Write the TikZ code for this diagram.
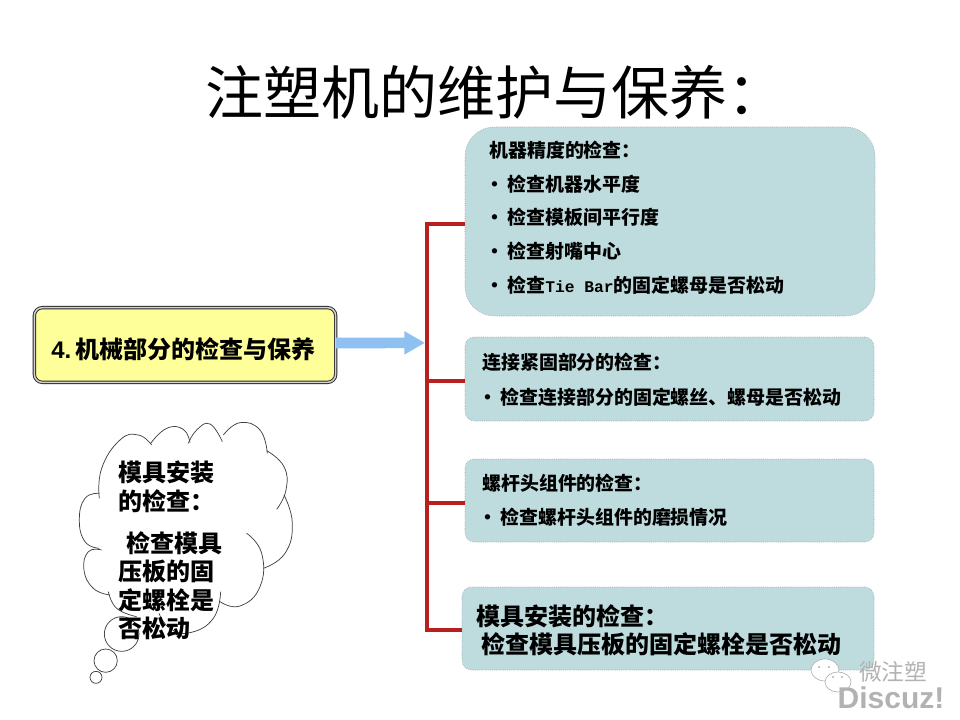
\documentclass[tikz,border=0pt]{standalone}
\usepackage{fontspec}
\setmainfont{Noto Sans CJK SC}
\newfontfamily\latinmono{Liberation Mono}
\newfontfamily\latinsans{Liberation Sans}
\usepackage{xcolor}
\usetikzlibrary{arrows.meta,positioning,calc}
\definecolor{boxblue}{RGB}{190,219,222}
\definecolor{boxyellow}{RGB}{255,255,153}
\definecolor{trunkred}{RGB}{184,32,32}
\definecolor{arrowblue}{RGB}{143,193,240}
\definecolor{markgray}{RGB}{178,178,178}
\begin{document}
\begin{tikzpicture}[x=0.75pt,y=-0.75pt,
  bluebox/.style={draw=gray!80,densely dotted,fill=boxblue,rounded corners=7pt},
  itemtxt/.style={anchor=west,inner sep=0pt,font=\fontsize{14.2}{16}\selectfont\bfseries},
  bigtxt/.style={anchor=west,inner sep=0pt,font=\fontsize{18}{21}\selectfont\bfseries},
  redline/.style={draw=trunkred,line width=3pt},
  cloudline/.style={draw=black!75,line width=0.55pt}]
\useasboundingbox (0,0) rectangle (960,720);
\node[anchor=west,inner sep=0pt,font=\fontsize{43.5}{48}\selectfont] (title) at (205,92) {注塑机的维护与保养：};
% right boxes
\node[bluebox,rounded corners=22pt,minimum width=307.5pt,minimum height=141.75pt] (box1) at (670,221.5) {};
\node[bluebox,minimum width=306.75pt,minimum height=63pt] (box2) at (669.5,379) {};
\node[bluebox,minimum width=306.75pt,minimum height=62.25pt] (box3) at (669.5,500.5) {};
\node[bluebox,minimum width=309pt,minimum height=62.25pt] (box4) at (668,628.5) {};
% box texts
\node[itemtxt] (t10) at (489,150) {机器精度的检查：};
\node[itemtxt] (t11) at (485,184) {•\hspace{2.5pt}检查机器水平度};
\node[itemtxt] (t12) at (485,217) {•\hspace{2.5pt}检查模板间平行度};
\node[itemtxt] (t13) at (485,251) {•\hspace{2.5pt}检查射嘴中心};
\node[itemtxt] (t14) at (485,285) {•\hspace{2.5pt}检查{\fontsize{12.2}{16}\selectfont\latinmono Tie Bar}的固定螺母是否松动};
\node[itemtxt] (t20) at (482,362) {连接紧固部分的检查：};
\node[itemtxt] (t21) at (478,397) {•\hspace{2.5pt}检查连接部分的固定螺丝、螺母是否松动};
\node[itemtxt] (t30) at (482,483) {螺杆头组件的检查：};
\node[itemtxt] (t31) at (478,517) {•\hspace{2.5pt}检查螺杆头组件的磨损情况};
\node[bigtxt] (t40) at (476,616) {模具安装的检查：};
\node[bigtxt] (t41) at (481,644) {检查模具压板的固定螺栓是否松动};
% yellow box and arrow
\node[draw=black!85,line width=0.7pt,double=white!65!gray,double distance=1.1pt,fill=boxyellow,rounded corners=6pt,
  minimum width=226pt,minimum height=56pt] (main) at (185,345) {};
\node[bigtxt] (maintxt) at (51,349) {{\latinsans 4.}\hspace{3.5pt}机械部分的检查与保养};
% red connectors
\coordinate (r1) at (427,224);
\coordinate (r2) at (427,381);
\coordinate (r3) at (427,503);
\coordinate (r4) at (427,630);
\draw[redline,line cap=rect] (r1) -- (r4);
\draw[redline] (r1) -- (box1.west |- r1);
\draw[redline] (r2) -- (box2.west |- r2);
\draw[redline] (r3) -- (box3.west |- r3);
\draw[redline] (r4) -- (box4.west |- r4);
\draw[-{Triangle[length=15.5pt,width=16.5pt]},arrowblue,line width=8pt]
  ($(main.east)+(0,-2)$) -- ($(r1)!0.757!(r2)+(-2,0)$);
% cloud
\begin{scope}[shift={(60,410)},x=0.25pt,y=-0.25pt]
\draw[cloudline] plot[smooth,tension=.8] coordinates {(118,265) (125,175) (180,90) (235,75) (275,105)};
\draw[cloudline] plot[smooth,tension=.8] coordinates {(272,100) (320,55) (370,58) (390,98)};
\draw[cloudline] plot[smooth,tension=.8] coordinates {(385,100) (410,60) (450,42) (487,95)};
\draw[cloudline] plot[smooth,tension=.8] coordinates {(490,75) (540,38) (600,60) (622,130)};
\draw[cloudline] plot[smooth,tension=.8] coordinates {(620,122) (672,170) (678,240) (650,298)};
\draw[cloudline] plot[smooth,tension=.8] coordinates {(672,255) (697,340) (675,430) (610,475)};
\draw[cloudline] plot[smooth,tension=.8] coordinates {(560,370) (605,430) (600,530) (540,588) (480,575)};
\draw[cloudline] plot[smooth,tension=.8] coordinates {(482,545) (460,625) (390,668) (330,655) (297,610)};
\draw[cloudline] plot[smooth,tension=.8] coordinates {(145,545) (170,595) (230,620)};
\draw[cloudline] plot[smooth,tension=.8] coordinates {(125,420) (85,425) (72,480) (100,535) (150,555)};
\draw[cloudline] plot[smooth,tension=.8] coordinates {(118,415) (75,395) (58,330) (75,265) (118,250)};
\node[cloudline,draw,circle,inner sep=0pt,minimum size=26pt] (bub1) at (185,672) {};
\node[cloudline,draw,circle,inner sep=0pt,minimum size=17.5pt] (bub2) at (137,752) {};
\node[cloudline,draw,circle,inner sep=0pt,minimum size=9pt] (bub3) at (108,802) {};
\end{scope}
\node[inner sep=0pt,anchor=north west,align=left,font=\fontsize{18}{21.4}\selectfont\bfseries] (cloudtxt) at (118,461)
  {模具安装\\的检查：\\[10pt]\hspace*{6pt}检查模具\\压板的固\\定螺栓是\\否松动};
% watermark
\draw[markgray,fill=white,line width=0.5pt] (825,670) ellipse (14 and 11);
\fill[markgray] (819,667) circle (1.2) (829,667) circle (1.2);
\draw[markgray,fill=white,line width=0.5pt] (838,682) ellipse (13 and 10);
\fill[markgray] (833,677) circle (1.2) (842,677) circle (1.2);
\node[inner sep=0pt,text=markgray,font=\fontsize{17}{19}\selectfont] (mark1) at (893,672) {微注塑};
\node[inner sep=0pt,text=markgray,font=\fontsize{22.5}{24}\selectfont\latinsans\bfseries] (mark2) at (891,698) {Discuz!};
\end{tikzpicture}
\end{document}
